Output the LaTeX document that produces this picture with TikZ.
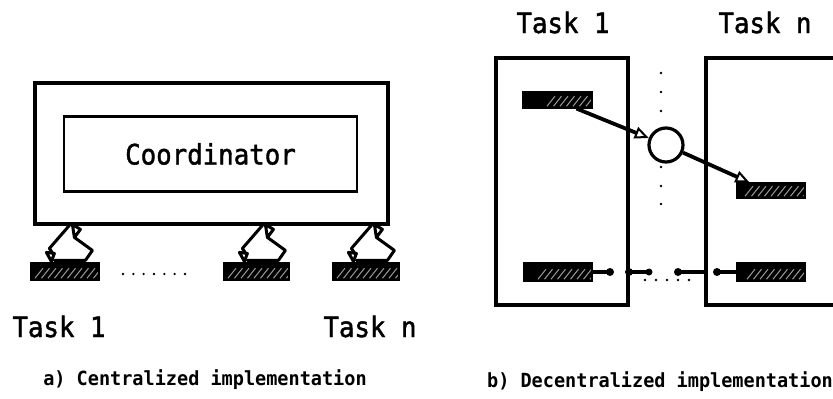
\documentclass[tikz,border=0pt]{standalone}
\usepackage{fontspec}
\newfontfamily\plotfont{DejaVu Sans Mono}[FakeBold=1.6]
\newfontfamily\plotbold{DejaVu Sans Mono Bold}
\usetikzlibrary{arrows.meta}

\tikzset{
  frame/.style={draw=black, line width=3.2pt, rectangle, inner sep=0pt},
  hatchline/.style={draw=white!60!black, line width=1pt},
  hatchbar/.style={rectangle, inner sep=0pt, fill=black, draw=black, line width=1.2pt,
    minimum height=17pt,
    path picture={\foreach \k in {0,...,12}{
      \draw[hatchline] ([xshift=#1+\k*6.5pt, yshift=1.8pt]path picture bounding box.south west) -- ++(8pt,10pt);}}},
  link/.style={draw=black, line width=3.8pt},
  grip/.style={draw=black, line width=3pt, line join=round, line cap=round},
  ball/.style={circle, fill=black, inner sep=0pt, minimum size=8pt},
  dot/.style={circle, fill=black, inner sep=0pt, minimum size=2.6pt},
  tasklabel/.style={font=\plotfont\fontsize{28}{30}\selectfont, anchor=base, inner sep=0pt},
  caption/.style={font=\plotbold\fontsize{19.5}{21}\selectfont, anchor=base, inner sep=0pt},
  openhead/.style={-{Triangle[open, length=14pt, width=12pt, line width=2pt]}},
  gripper/.pic={
    % palm and fingers of the manipulator standing on its work piece
    \draw[grip] (39,-37) -- (19,-14) -- (23,-8);
    \draw[grip, fill=white] (16,-10) -- (24,-9) -- (21,-1) -- cycle;
    \draw[grip, fill=white] (42,-38) -- (44,-25) -- (50,-33) -- cycle;
    \draw[grip] (44,-25) -- (62,-12) -- (55,-2) -- (24,-2);
  }
}

\begin{document}
\begin{tikzpicture}[x=1pt, y=-1pt]
\useasboundingbox (0,0) rectangle (833,399);
\clip (0,0) rectangle (833,399);
\fill[white] (0,0) rectangle (833,399);

% ---------- a) centralized ----------
\node[frame, minimum width=353pt, minimum height=141pt] (outer) at (211.5,153.5) {};
\node[frame, line width=2.8pt, minimum width=293pt, minimum height=75pt,
      font=\plotfont\fontsize{28}{30}\selectfont] (coord) at (210.5,154) {\scalebox{0.92}[1]{Coordinator}};

\node[hatchbar=4pt, minimum width=68pt] (plate1) at (65,271.5) {};
\node[hatchbar=4pt, minimum width=65pt] (plate2) at (256.5,271.5) {};
\node[hatchbar=4pt, minimum width=66pt] (plate3) at (366,271.5) {};

\pic at (plate1.north west) {gripper};
\pic at (plate2.north west) {gripper};
\pic at (plate3.north west) {gripper};

\foreach \i in {0,...,6}
  \node[dot] (ldot\i) at (123+\i*10.33,274) {};

\node[tasklabel] (lt1) at (59,337) {\scalebox{0.92}[1]{Task 1}};
\node[tasklabel] (ltn) at (370,337) {\scalebox{0.92}[1]{Task n}};
\node[caption] (capa) at (205,385) {\scalebox{0.95}[1]{a) Centralized implementation}};

% ---------- b) decentralized ----------
\node[frame, minimum width=132pt, minimum height=247pt] (task1) at (562,181.5) {};
\node[frame, minimum width=194pt, minimum height=247pt] (taskn) at (803,181.5) {};
\node[tasklabel] (rt1) at (563,33) {\scalebox{0.92}[1]{Task 1}};
\node[tasklabel] (rtn) at (765,33) {\scalebox{0.92}[1]{Task n}};

\foreach \y [count=\j] in {73,92,111,167,186,204}
  \node[dot] (vdot\j) at (661,\y) {};

\node[hatchbar=24pt, minimum width=69pt, minimum height=16pt] (bar1a) at (557.5,100) {};
\node[hatchbar=8pt, minimum width=68pt, minimum height=15pt] (barna) at (771,190.5) {};
\node[hatchbar=14pt, minimum width=68pt, minimum height=18pt] (bar1b) at (558,272) {};
\node[hatchbar=10pt, minimum width=68pt, minimum height=18pt] (barnb) at (771,272) {};

\node[circle, draw=black, line width=3.2pt, minimum size=34pt, inner sep=0pt] (hub) at (666,145) {};

\draw[link, openhead] ([xshift=-16pt]bar1a.south east) -- (hub);
\coordinate (hitn) at ([xshift=13pt]barna.north west);
\draw[link, openhead] (hub) -- (hitn);

% coupling pieces between the lower work pieces
\node[ball] (b1) at (610,272) {};
\node[ball] (b2l) at (629,272) {};
\node[ball, minimum size=7pt] (b2r) at (649,272) {};
\node[ball] (b3l) at (678,272) {};
\node[ball] (b4) at (717,272) {};
\coordinate (b3r) at (taskn.west |- b3l);
\draw[link] (bar1b.east) -- (b1.center);
\draw[link] (b2l.center) -- (b2r.center);
\draw[link] (b3l.center) -- (b3r);
\draw[link] (b4.center) -- (barnb.west);

\foreach \x [count=\j] in {645,656,667,678,689}
  \node[dot] (hdot\j) at (\x,280) {};

\node[caption] (capb) at (660,387) {\scalebox{0.95}[1]{b) Decentralized implementation}};
\end{tikzpicture}
\end{document}
